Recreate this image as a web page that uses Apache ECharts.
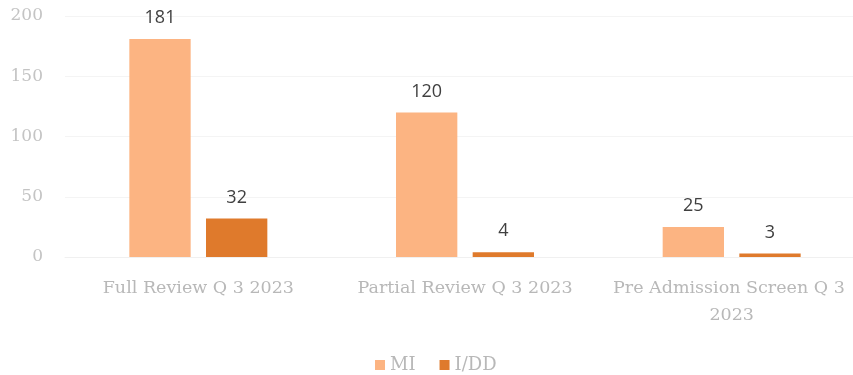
<!DOCTYPE html>
<html>
<head>
<meta charset="utf-8">
<script src="https://cdn.jsdelivr.net/npm/echarts@6/dist/echarts.min.js"></script>
<style>
  html, body { margin: 0; padding: 0; background: #ffffff; overflow: hidden; }
  /* drawing surface is slightly wider than the window; the right edge is cropped */
  #chart { width: 865px; height: 375px; }
</style>
</head>
<body>
<div id="chart"></div>
<script>
// Review counts for Q3 2023, split by population
const categories = ['Full Review Q 3 2023', 'Partial Review Q 3 2023', 'Pre Admission Screen Q 3 2023'];
const miValues = [181, 120, 25];
const iddValues = [32, 4, 3];
const yTicks = [0, 50, 100, 150, 200];

const axisFont = 'DejaVu Serif';
const labelFont = 'Open Sans';

const chart = echarts.init(document.getElementById('chart'), null, { renderer: 'canvas' });

chart.setOption({
  backgroundColor: '#ffffff',
  animation: false,
  grid: { left: 65, right: 0, top: 16, bottom: 118, containLabel: false },
  legend: {
    left: 370,
    top: 351,
    itemWidth: 10,
    itemHeight: 10,
    itemGap: 24,
    icon: 'rect',
    textStyle: { fontFamily: axisFont, fontSize: 18, color: '#b8b8b8' },
    data: ['MI', 'I/DD']
  },
  xAxis: {
    type: 'category',
    data: categories,
    axisLine: { show: true, lineStyle: { color: '#f0f0f0' } },
    axisTick: { show: false },
    axisLabel: {
      interval: 0,
      margin: 18,
      fontFamily: axisFont,
      fontSize: 17.5,
      color: '#b8b8b8',
      width: 250,
      overflow: 'break',
      lineHeight: 27
    }
  },
  yAxis: {
    type: 'value',
    min: yTicks[0],
    max: yTicks[yTicks.length - 1],
    interval: yTicks[1] - yTicks[0],
    axisLine: { show: false },
    axisTick: { show: false },
    splitLine: { lineStyle: { color: '#f4f4f4' } },
    axisLabel: {
      margin: 22,
      fontFamily: axisFont,
      fontSize: 17,
      color: '#c4c4c4'
    }
  },
  series: [
    {
      name: 'MI',
      type: 'bar',
      data: miValues,
      barWidth: '23%',
      barGap: '25%',
      itemStyle: { color: '#fcb482' },
      label: {
        show: true,
        position: 'top',
        distance: 12,
        fontFamily: labelFont,
        fontSize: 18,
        color: '#404040'
      }
    },
    {
      name: 'I/DD',
      type: 'bar',
      data: iddValues,
      barWidth: '23%',
      itemStyle: { color: '#df7a2c' },
      label: {
        show: true,
        position: 'top',
        distance: 12,
        fontFamily: labelFont,
        fontSize: 18,
        color: '#404040'
      }
    }
  ]
});
</script>
</body>
</html>
